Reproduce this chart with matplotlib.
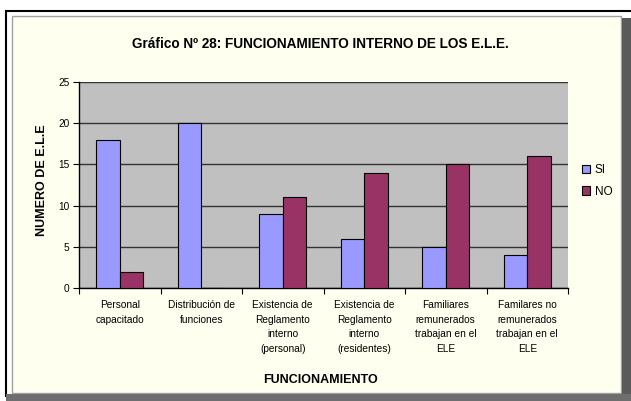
import matplotlib.pyplot as plt
from matplotlib.patches import Rectangle
import numpy as np

plt.rcParams['font.family'] = ['Liberation Sans', 'DejaVu Sans']

CATEGORIAS = ["Personal\ncapacitado", "Distribución de\nfunciones",
              "Existencia de\nReglamento\ninterno\n(personal)",
              "Existencia de\nReglamento\ninterno\n(residentes)",
              "Familiares\nremunerados\ntrabajan en el\nELE",
              "Familares no\nremunerados\ntrabajan en el\nELE"]
SI = [18, 20, 9, 6, 5, 4]
NO = [2, 0, 11, 14, 15, 16]

W, H = 631, 401
fig = plt.figure(figsize=(W / 100, H / 100), dpi=100)
fig.patch.set_facecolor("white")


def px_rect(x0, y0, x1, y1, **kw):
    # rectangulo en pixeles (origen arriba a la izquierda)
    fig.patches.append(Rectangle((x0 / W, 1 - y1 / H), (x1 - x0) / W, (y1 - y0) / H,
                                 transform=fig.transFigure, zorder=-10, **kw))


# marco del grafico
px_rect(6, 11, 640, 396, facecolor="white", edgecolor="black", linewidth=1.5)
px_rect(12, 16, 621, 393, facecolor="#FFFFF0", edgecolor="#A0A0A0", linewidth=1)
px_rect(622, 18, 640, 410, facecolor="#5A5A5A", edgecolor="none")
px_rect(6, 394, 640, 410, facecolor="#6E6E6E", edgecolor="none")

ax = fig.add_axes([79 / W, 1 - 288 / H, (568 - 79) / W, (288 - 82) / H])
ax.set_facecolor("#C0C0C0")

x = np.arange(len(CATEGORIAS))
ancho = 0.29
ax.bar(x - ancho / 2, SI, ancho, color="#9999FF", edgecolor="black", linewidth=0.8,
       label="SI", zorder=3)
ax.bar(x + ancho / 2, NO, ancho, color="#993366", edgecolor="black", linewidth=0.8,
       label="NO", zorder=3)

ax.set_xlim(-0.5, len(CATEGORIAS) - 0.5)
ax.set_ylim(0, 25)
ax.set_yticks(range(0, 26, 5))
ax.yaxis.grid(True, color="#333333", linewidth=1, zorder=1)
ax.set_xticks(np.arange(-0.5, len(CATEGORIAS), 1))
ax.set_xticklabels([])
ax.set_xticks(x, minor=True)
ax.set_xticklabels(CATEGORIAS, minor=True, fontsize=7.3, linespacing=1.55, va="top")
ax.tick_params(axis="x", which="minor", length=0, pad=9)
ax.tick_params(axis="x", which="major", length=4, direction="out")
ax.tick_params(axis="y", length=4, labelsize=7.3, pad=3)

for lado in ["top", "right"]:
    ax.spines[lado].set_visible(False)
ax.spines["left"].set_linewidth(1)
ax.spines["bottom"].set_linewidth(1)

fig.text(320 / W, 1 - 44 / H, "Gráfico Nº 28: FUNCIONAMIENTO INTERNO DE LOS E.L.E.",
         ha="center", va="center", fontsize=9.8, fontweight="bold")
fig.text(42 / W, 1 - 180 / H, "NUMERO DE E.L.E", rotation=90, ha="center", va="center",
         fontsize=9, fontweight="bold")
fig.text(320 / W, 1 - 380 / H, "FUNCIONAMIENTO", ha="center", va="center",
         fontsize=9, fontweight="bold")

fig.legend(loc="center left", bbox_to_anchor=(576 / W, 1 - 181 / H), frameon=False,
           fontsize=8.5, handlelength=0.7, handleheight=0.7, handletextpad=0.4,
           labelspacing=0.8, borderpad=0)

fig.savefig("out.png", dpi=100)
